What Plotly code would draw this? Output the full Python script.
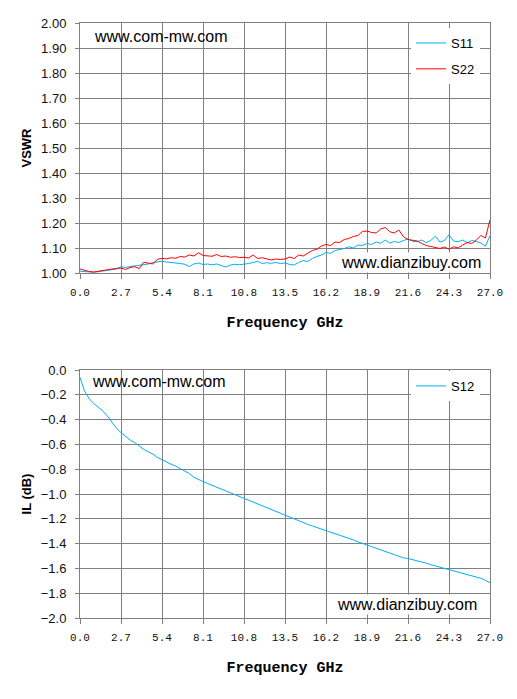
import plotly.graph_objects as go
from plotly.subplots import make_subplots

# frequency sweep, 0.3 GHz steps from 0 to 27 GHz
freq = [round(i * 0.3, 1) for i in range(91)]

s11 = [1.007, 1.005, 1.004, 1.003, 1.005, 1.008, 1.010, 1.012, 1.016, 1.025,
       1.022, 1.026, 1.028, 1.030, 1.033, 1.036, 1.042, 1.046, 1.047, 1.044,
       1.043, 1.041, 1.038, 1.035, 1.026, 1.036, 1.040, 1.034, 1.036, 1.033,
       1.036, 1.030, 1.024, 1.032, 1.035, 1.033, 1.034, 1.038, 1.042, 1.047,
       1.038, 1.041, 1.039, 1.042, 1.038, 1.040, 1.034, 1.032, 1.042, 1.050,
       1.046, 1.058, 1.066, 1.072, 1.082, 1.079, 1.090, 1.093, 1.098, 1.105,
       1.100, 1.112, 1.110, 1.118, 1.114, 1.124, 1.119, 1.132, 1.120, 1.126,
       1.122, 1.130, 1.136, 1.127, 1.125, 1.132, 1.121, 1.130, 1.147, 1.124,
       1.130, 1.153, 1.128, 1.125, 1.132, 1.121, 1.130, 1.126, 1.120, 1.107,
       1.150]

s22 = [1.016, 1.010, 1.006, 1.004, 1.008, 1.011, 1.013, 1.016, 1.018, 1.020,
       1.014, 1.022, 1.025, 1.018, 1.043, 1.040, 1.036, 1.055, 1.058, 1.057,
       1.061, 1.059, 1.066, 1.064, 1.072, 1.068, 1.081, 1.070, 1.069, 1.067,
       1.074, 1.066, 1.068, 1.063, 1.065, 1.062, 1.063, 1.060, 1.072, 1.058,
       1.061, 1.058, 1.052, 1.056, 1.054, 1.056, 1.064, 1.058, 1.072, 1.068,
       1.080, 1.090, 1.095, 1.108, 1.114, 1.110, 1.124, 1.122, 1.134, 1.138,
       1.146, 1.150, 1.166, 1.168, 1.162, 1.160, 1.176, 1.182, 1.165, 1.160,
       1.172, 1.145, 1.134, 1.130, 1.128, 1.118, 1.110, 1.106, 1.101, 1.098,
       1.104, 1.095, 1.105, 1.100, 1.112, 1.122, 1.118, 1.132, 1.150, 1.140,
       1.213]

s12 = [-0.06, -0.17, -0.23, -0.27, -0.30, -0.33, -0.37, -0.42, -0.47, -0.505,
       -0.535, -0.565, -0.585, -0.615, -0.64, -0.66, -0.678, -0.705, -0.725, -0.74,
       -0.76, -0.775, -0.795, -0.815, -0.835, -0.865, -0.885, -0.90, -0.915, -0.93,
       -0.945, -0.96, -0.98, -0.995, -1.01, -1.025, -1.04, -1.055, -1.07, -1.085,
       -1.10, -1.115, -1.13, -1.145, -1.16, -1.175, -1.19, -1.205, -1.22, -1.232,
       -1.245, -1.258, -1.27, -1.283, -1.295, -1.308, -1.32, -1.332, -1.344, -1.357,
       -1.37, -1.385, -1.40, -1.413, -1.424, -1.437, -1.45, -1.465, -1.478, -1.49,
       -1.505, -1.515, -1.52, -1.528, -1.54, -1.55, -1.558, -1.57, -1.58, -1.59,
       -1.598, -1.608, -1.62, -1.63, -1.643, -1.653, -1.662, -1.672, -1.68, -1.697,
       -1.715]

# the page body adds an 8px margin, so the figure is 8px smaller than the window
W, H = 509, 691
BLUE = "#00B0F0"
RED = "#FF0000"
GRID = "#808080"

fig = make_subplots(rows=2, cols=1)

fig.add_trace(go.Scatter(x=freq, y=s11, mode="lines", name="S11",
                         line=dict(color=BLUE, width=1),
                         legend="legend", legendgroup="a"), row=1, col=1)
fig.add_trace(go.Scatter(x=freq, y=s22, mode="lines", name="S22",
                         line=dict(color=RED, width=1),
                         legend="legend", legendgroup="b"), row=1, col=1)
fig.add_trace(go.Scatter(x=freq, y=s12, mode="lines", name="S12",
                         line=dict(color=BLUE, width=1),
                         legend="legend2"), row=2, col=1)

xdom = [72 / W, 482 / W]
xcommon = dict(range=[0, 27], tick0=0, dtick=2.7, tickformat=".1f",
               showgrid=True, gridcolor=GRID, gridwidth=1,
               showline=True, linecolor=GRID, linewidth=1, mirror=True,
               ticks="outside", ticklen=5, tickcolor=GRID, zeroline=False,
               ticklabelstandoff=4,
               tickfont=dict(family="Liberation Mono", size=11, color="#111"),
               domain=xdom, automargin=False, fixedrange=True)
ycommon = dict(showgrid=True, gridcolor=GRID, gridwidth=1,
               showline=True, linecolor=GRID, linewidth=1, mirror=True,
               ticks="outside", ticklen=4, tickcolor=GRID, zeroline=False,
               automargin=False, ticklabelstandoff=6,
               tickfont=dict(family="Liberation Sans", size=13, color="#111"))

xtitle = dict(text="<b>Frequency GHz</b>",
              font=dict(family="Liberation Mono", size=15, color="black"),
              standoff=18)

fig.update_xaxes(**xcommon)
fig.update_layout(
    xaxis=dict(title=xtitle),
    xaxis2=dict(title=xtitle),
    yaxis=dict(ycommon, range=[1, 2], dtick=0.1, tickformat=".2f",
               domain=[1 - 265 / H, 1 - 15 / H],
               title=dict(text="<b>VSWR</b>", standoff=6,
                          font=dict(family="Liberation Sans", size=13, color="black"))),
    yaxis2=dict(ycommon, range=[-2, 0], dtick=0.2, tickformat=".1f",
                domain=[1 - 610 / H, 1 - 362 / H],
                title=dict(text="<b>IL (dB)</b>", standoff=6,
                           font=dict(family="Liberation Sans", size=13, color="black"))),
)

legend_style = dict(bgcolor="white", borderwidth=0, xanchor="left", yanchor="top",
                    font=dict(family="Liberation Sans", size=13, color="black"),
                    tracegroupgap=6, traceorder="grouped")
fig.update_layout(
    legend=dict(legend_style, x=403 / W, y=1 - 20 / H),
    legend2=dict(legend_style, x=403 / W, y=1 - 363 / H),
)

# watermarks: the com-mw one is transparent, the dianzibuy one sits in a white box
marks = [
    ("www.com-mw.com", "x", "y", 5.27, 1.948, "rgba(0,0,0,0)"),
    ("www.dianzibuy.com", "x", "y", 21.83, 1.044, "white"),
    ("www.com-mw.com", "x2", "y2", 5.17, -0.089, "rgba(0,0,0,0)"),
    ("www.dianzibuy.com", "x2", "y2", 21.53, -1.895, "white"),
]
for text, xr, yr, xv, yv, bg in marks:
    fig.add_annotation(text=text, xref=xr, yref=yr, x=xv, y=yv, showarrow=False,
                       font=dict(family="Liberation Sans", size=16, color="black"),
                       bgcolor=bg)

fig.update_layout(width=W, height=H, margin=dict(l=0, r=0, t=0, b=0),
                  plot_bgcolor="white", paper_bgcolor="white")

fig.write_html("out.html")
